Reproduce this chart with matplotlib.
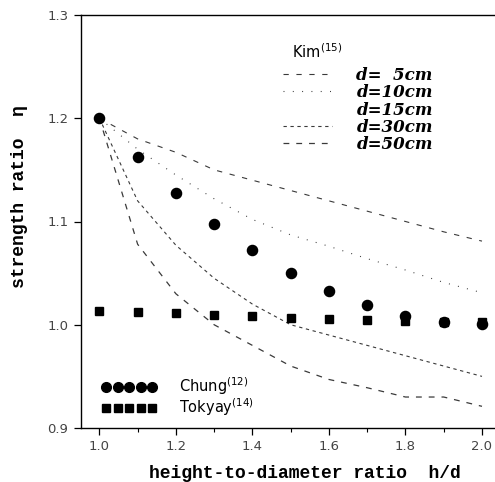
import matplotlib
matplotlib.use("Agg")
import matplotlib.pyplot as plt
from matplotlib.lines import Line2D
from matplotlib.ticker import MultipleLocator

plt.rcParams["lines.scale_dashes"] = False
plt.rcParams["mathtext.fontset"] = "dejavusans"

# height-to-diameter ratios
hd = [1.0, 1.1, 1.2, 1.3, 1.4, 1.5, 1.6, 1.7, 1.8, 1.9, 2.0]

# Kim: strength ratio curves for several specimen diameters
kim_5 = [1.200, 1.180, 1.167, 1.150, 1.140, 1.130, 1.120, 1.110, 1.100, 1.090, 1.081]
kim_10 = [1.200, 1.170, 1.145, 1.122, 1.102, 1.087, 1.076, 1.064, 1.053, 1.041, 1.031]
kim_30 = [1.200, 1.120, 1.077, 1.045, 1.020, 1.000, 0.990, 0.980, 0.970, 0.960, 0.950]
kim_50 = [1.200, 1.078, 1.030, 1.000, 0.980, 0.960, 0.947, 0.939, 0.930, 0.930, 0.921]

# experimental points
chung = [1.200, 1.162, 1.128, 1.098, 1.072, 1.050, 1.033, 1.019, 1.008, 1.003, 1.001]
tokyay = [1.013, 1.012, 1.011, 1.009, 1.008, 1.007, 1.006, 1.005, 1.004, 1.003, 1.003]

kim_labels = ["d=  5cm", "d=10cm", "d=15cm", "d=30cm", "d=50cm"]
x_ticks = [1.0, 1.2, 1.4, 1.6, 1.8, 2.0]
y_ticks = [0.9, 1.0, 1.1, 1.2, 1.3]

fig = plt.figure(figsize=(4.95, 4.82), dpi=100)
ax = fig.add_axes([81 / 495, 1 - 428 / 482, (495 - 81) / 495, (428 - 15) / 482])

line_color = "#3a3a3a"
style_5 = dict(color=line_color, lw=0.8, dashes=(3.8, 5.5))
style_10 = dict(color=line_color, lw=0.8, dashes=(0.7, 6.0))
style_15 = dict(color=line_color, lw=0.0, ls="none")
style_30 = dict(color=line_color, lw=0.8, dashes=(2.4, 2.6))
style_50 = dict(color=line_color, lw=0.9, dashes=(4.2, 5.0))

ax.plot(hd, kim_5, **style_5)
ax.plot(hd, kim_10, **style_10)
ax.plot(hd, kim_30, **style_30)
ax.plot(hd, kim_50, **style_50)

ax.plot(hd, tokyay, ls="none", marker="s", ms=6.0, color="black")
ax.plot(hd, chung, ls="none", marker="o", ms=7.3, color="black")

ax.set_xlim(0.952, 2.034)
ax.set_ylim(0.9, 1.3)
ax.set_xticks(x_ticks)
ax.set_yticks(y_ticks)
ax.xaxis.set_minor_locator(MultipleLocator(0.1))
ax.set_xticklabels([f"{v:.1f}" for v in x_ticks])
ax.set_yticklabels([f"{v:.1f}" for v in y_ticks])
ax.spines["right"].set_visible(False)
for s in ("left", "bottom", "top"):
    ax.spines[s].set_linewidth(1.0)
ax.tick_params(axis="both", which="major", direction="out", length=5, width=0.9,
               labelsize=9.5, labelcolor="#444444", pad=4)
ax.tick_params(axis="x", which="minor", direction="out", length=3, width=0.8)
for lab in ax.get_xticklabels() + ax.get_yticklabels():
    lab.set_family("DejaVu Sans")

label_font = dict(family=["Liberation Mono", "DejaVu Sans Mono"], weight="bold", fontsize=13)
fig.text(305 / 495, 1 - 473 / 482, "height-to-diameter ratio  h/d",
         ha="center", va="center", **label_font)
fig.text(20 / 495, 1 - 197 / 482, "strength ratio  \u03b7", rotation=90,
         ha="center", va="center", **label_font)

# Kim legend
fig.text(292 / 495, 1 - 52 / 482, "Kim$^{(15)}$", ha="left", va="center",
         family="DejaVu Sans", fontsize=10.5)
kim_handles = [Line2D([], [], **style_5), Line2D([], [], **style_10),
               Line2D([], [], **style_15), Line2D([], [], **style_30),
               Line2D([], [], **style_50)]
leg1 = ax.legend(kim_handles, kim_labels, loc="upper left",
                 bbox_to_anchor=(283 / 495, 1 - 67 / 482), bbox_transform=fig.transFigure,
                 frameon=False, handlelength=2.95, handletextpad=1.45, labelspacing=0.02,
                 borderaxespad=0, borderpad=0,
                 prop=dict(family="DejaVu Serif", weight="bold", style="italic", size=12))
ax.add_artist(leg1)

# experimental data legend
exp_handles = [Line2D([], [], ls="none", marker="o", ms=7.0, color="black"),
               Line2D([], [], ls="none", marker="s", ms=6.3, color="black")]
ax.legend(exp_handles, ["Chung$^{(12)}$", "Tokyay$^{(14)}$"], loc="upper left",
          bbox_to_anchor=(102 / 495, 1 - 375 / 482), bbox_transform=fig.transFigure,
          frameon=False, numpoints=5, handlelength=3.75, handletextpad=1.5,
          labelspacing=0.0, borderaxespad=0, borderpad=0,
          prop=dict(family="DejaVu Sans", size=10.5))

fig.savefig("out.png", dpi=100)
